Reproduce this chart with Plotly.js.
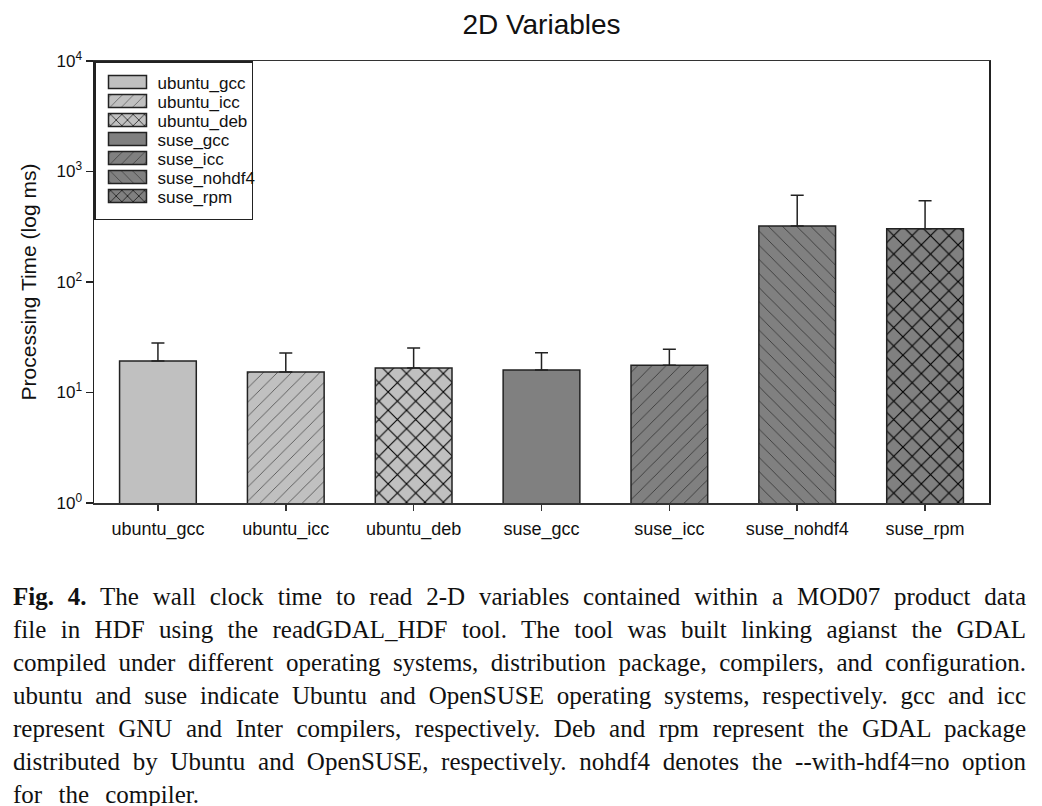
<!DOCTYPE html>
<html><head><meta charset="utf-8">
<script src="https://cdn.plot.ly/plotly-3.0.1.min.js"></script>
<style>html,body{margin:0;padding:0;background:#fff;}</style>
</head><body>
<div id="chart" style="width:1042px;height:806px;"></div>
<script>
// ---- data ----
const categories = ['ubuntu_gcc', 'ubuntu_icc', 'ubuntu_deb', 'suse_gcc', 'suse_icc', 'suse_nohdf4', 'suse_rpm'];
const meanTimes = [19.3, 15.3, 16.7, 16.0, 17.6, 321, 303];
const upperErrors = [8.7, 7.5, 8.6, 6.9, 7.0, 288, 241];
const fillColors = ['#c0c0c0', '#c0c0c0', '#c0c0c0', '#808080', '#808080', '#808080', '#808080'];
const patternShapes = ['', '/', 'x', '', '/', '\\', 'x'];
const yTickVals = [1, 10, 100, 1000, 10000];
const yTickText = ['10<sup>0</sup>', '10<sup>1</sup>', '10<sup>2</sup>', '10<sup>3</sup>', '10<sup>4</sup>'];
const chartTitle = '2D Variables';
const yTitle = 'Processing Time (log ms)';
const captionLines = [
  '<b>Fig. 4.</b> The wall clock time to read 2-D variables contained within a MOD07 product data',
  'file in HDF using the readGDAL_HDF tool. The tool was built linking agianst the GDAL',
  'compiled under different operating systems, distribution package, compilers, and configuration.',
  'ubuntu and suse indicate Ubuntu and OpenSUSE operating systems, respectively. gcc and icc',
  'represent GNU and Inter compilers, respectively. Deb and rpm represent the GDAL package',
  'distributed by Ubuntu and OpenSUSE, respectively. nohdf4 denotes the --with-hdf4=no option',
  'for the compiler.'
];

// ---- geometry (px) ----
const W = 1042, H = 806;
const plotL = 94, plotR = 989, plotT = 61, plotB = 503;
const plotW = plotR - plotL, plotH = plotB - plotT;

const traces = categories.map((c, i) => ({
  type: 'bar',
  x: [c],
  y: [meanTimes[i]],
  name: c,
  width: 0.6,
  marker: {
    color: fillColors[i],
    line: {color: '#222', width: 1.5},
    pattern: {
      shape: patternShapes[i],
      fgcolor: '#000',
      bgcolor: fillColors[i],
      size: patternShapes[i] === 'x' ? 13 : 10,
      solidity: patternShapes[i] === 'x' ? 0.16 : 0.05
    }
  },
  error_y: {
    type: 'data', symmetric: false,
    array: [upperErrors[i]], arrayminus: [0],
    color: '#222', thickness: 1.5, width: 6.5
  },
  hoverinfo: 'x+y'
}));

const captionStart = 596, captionStep = 33, captionLeft = 11;
const captionWidths = [1013, 1013, 1013, 1013, 1013, 1013, 186];
const annotations = captionLines.map((t, i) => ({
  text: t,
  xref: 'paper', yref: 'paper',
  x: (captionLeft - plotL) / plotW,
  y: (plotB - (captionStart + i * captionStep)) / plotH,
  xanchor: 'left', yanchor: 'middle', align: 'left',
  showarrow: false,
  font: {family: '"Liberation Serif", "Times New Roman", serif', size: 25, color: '#111'}
}));

const layout = {
  width: W, height: H,
  margin: {l: plotL, r: W - plotR, t: plotT, b: H - plotB, pad: 0},
  paper_bgcolor: '#fff', plot_bgcolor: '#fff',
  font: {family: '"Liberation Sans", Arial, sans-serif', color: '#111'},
  title: {text: chartTitle, x: 0.5, xref: 'paper', xanchor: 'center', y: 1 - 24 / H, yanchor: 'middle',
          font: {size: 28, color: '#111'}},
  barmode: 'overlay',
  showlegend: true,
  legend: {
    x: 0, y: 1, xanchor: 'left', yanchor: 'top',
    bgcolor: '#fff', bordercolor: '#222', borderwidth: 1.5,
    font: {size: 17, color: '#111'},
    itemwidth: 50, traceorder: 'normal'
  },
  xaxis: {
    type: 'category', categoryorder: 'array', categoryarray: categories,
    showline: true, linecolor: '#333', linewidth: 1.5, mirror: true,
    ticks: 'outside', ticklen: 6, tickwidth: 1.5, tickcolor: '#333',
    tickfont: {size: 18, color: '#111'}, ticklabelstandoff: 3,
    showgrid: false, zeroline: false
  },
  yaxis: {
    type: 'log', range: [0, 4],
    tickmode: 'array', tickvals: yTickVals, ticktext: yTickText,
    showline: true, linecolor: '#222', linewidth: 1.5, mirror: true,
    ticks: 'outside', ticklen: 7, tickwidth: 1.5, tickcolor: '#222',
    tickfont: {size: 17, color: '#111'},
    showgrid: false, zeroline: false,
    title: {text: yTitle, font: {size: 21, color: '#111'}, standoff: 14}
  },
  annotations: annotations
};

Plotly.newPlot('chart', traces, layout, {displayModeBar: false, staticPlot: true}).then(() => {
  // justify caption lines to their widths by stretching the gaps between words
  document.querySelectorAll('g.annotation').forEach((g) => {
    const idx = +g.getAttribute('data-index');
    if (isNaN(idx) || idx >= captionLines.length) return;
    const txt = g.querySelector('text.annotation-text');
    if (!txt) return;
    const target = captionWidths[idx];
    const w = txt.getComputedTextLength();
    const plain = captionLines[idx].replace(/<[^>]+>/g, '');
    const spaces = (plain.match(/ /g) || []).length;
    const ws = spaces > 0 ? (target - w) / spaces : 0;
    if (ws >= 1.5) {
      txt.style.wordSpacing = ws + 'px';
    } else {
      txt.style.wordSpacing = '1.5px';
      txt.setAttribute('textLength', target);
      txt.setAttribute('lengthAdjust', 'spacingAndGlyphs');
    }
  });
  // legend: rectangular keys, tighter rows, box size as in the reference
  const legendRowGap = 19, legendBoxW = 159, legendBoxH = 159;
  document.querySelectorAll('.legend .legendpoints path').forEach((p) => {
    p.setAttribute('d', 'M19,6.5H-19V-6.5H19Z');
  });
  const items = document.querySelectorAll('.legend .traces');
  let y0 = null;
  items.forEach((g, i) => {
    const m = /translate\(\s*([-\d.]+)[ ,]+([-\d.]+)\s*\)/.exec(g.getAttribute('transform') || '');
    if (!m) return;
    if (y0 === null) y0 = parseFloat(m[2]);
    g.setAttribute('transform', 'translate(' + (parseFloat(m[1]) + 2) + ',' + (y0 + 2 + i * legendRowGap) + ')');
  });
  const bg = document.querySelector('.legend rect.bg');
  if (bg) {
    bg.setAttribute('width', legendBoxW - 1.5);
    bg.setAttribute('height', legendBoxH - 1.5);
  }
});
</script>
</body></html>
